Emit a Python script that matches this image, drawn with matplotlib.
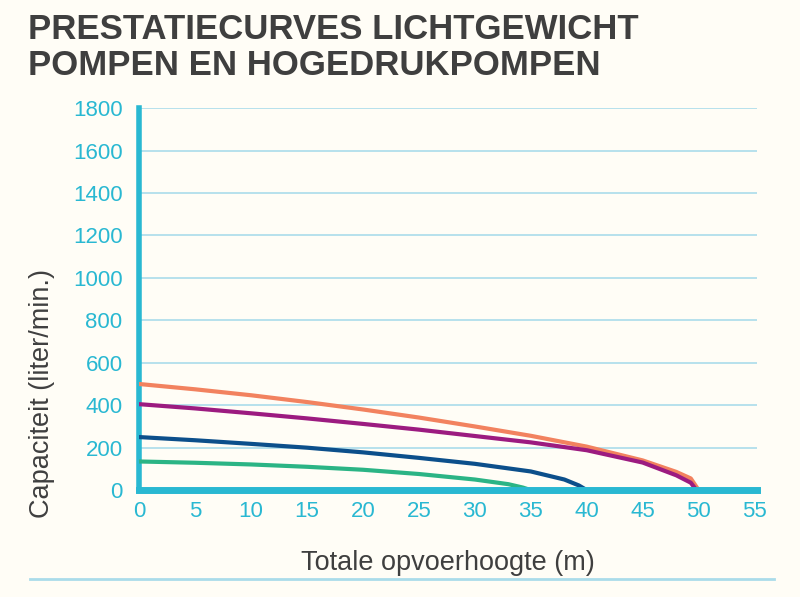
import numpy as np
import matplotlib.pyplot as plt
from matplotlib.lines import Line2D

# curve data (head in m, capacity in liter/min)
orange_x = [0, 5, 10, 15, 20, 25, 30, 35, 40, 45, 48, 49.3, 50]
orange_y = [500, 475, 447, 415, 380, 342, 300, 256, 205, 140, 86, 55, 0]
purple_x = [0, 5, 10, 15, 20, 25, 30, 35, 40, 45, 48, 49.3, 49.8]
purple_y = [405, 385, 362, 338, 312, 285, 255, 225, 188, 130, 70, 35, 0]
blue_x = [0, 5, 10, 15, 20, 25, 30, 35, 38, 39.3, 40]
blue_y = [250, 235, 218, 200, 178, 152, 124, 88, 50, 22, 0]
green_x = [0, 5, 10, 15, 20, 25, 30, 33, 34.3, 35]
green_y = [135, 129, 121, 110, 96, 76, 50, 28, 12, 0]

xticks = [0, 5, 10, 15, 20, 25, 30, 35, 40, 45, 50, 55]
yticks = [0, 200, 400, 600, 800, 1000, 1200, 1400, 1600, 1800]

bg = '#fffdf6'
cyan = '#29b8d2'
grid_col = '#aadcea'
dark = '#3f3f3f'

plt.rcParams['font.family'] = ['Liberation Sans', 'DejaVu Sans']

fig = plt.figure(figsize=(8, 5.97), dpi=100, facecolor=bg)
ax = fig.add_axes([0.174, 0.179, 0.772, 0.640])
ax.set_facecolor(bg)

ax.plot(orange_x, orange_y, color='#f2825f', lw=3, solid_capstyle='round', zorder=4)
ax.plot(purple_x, purple_y, color='#9c1b80', lw=3, solid_capstyle='round', zorder=4)
ax.plot(blue_x, blue_y, color='#0c4f8b', lw=3, solid_capstyle='round', zorder=4)
ax.plot(green_x, green_y, color='#2bb485', lw=3, solid_capstyle='round', zorder=4)

ax.set_xlim(0, 55.2)
ax.set_ylim(0, 1800)
ax.set_xticks(xticks)
ax.set_yticks(yticks)
ax.yaxis.grid(True, color=grid_col, lw=1.2)
ax.set_axisbelow(True)

for s in ['top', 'right']:
    ax.spines[s].set_visible(False)
ax.spines['left'].set_color(cyan)
ax.spines['left'].set_linewidth(4)
ax.spines['bottom'].set_color(cyan)
ax.spines['bottom'].set_linewidth(5)
ax.spines['bottom'].set_zorder(5)
ax.tick_params(length=0, colors=cyan, labelsize=16, pad=8)
ax.tick_params(axis='y', pad=12)

ax.set_xlabel('Totale opvoerhoogte (m)', fontsize=19.5, color=dark, labelpad=20)
ax.yaxis.set_label_coords(-0.136, -0.073)
ax.set_ylabel('Capaciteit (liter/min.)', fontsize=19.5, color=dark, ha='left')

fig.text(0.035, 0.978, 'PRESTATIECURVES LICHTGEWICHT\nPOMPEN EN HOGEDRUKPOMPEN',
         fontsize=25, fontweight='bold', color=dark, va='top', ha='left',
         linespacing=1.12)

fig.add_artist(Line2D([0.038, 0.968], [0.03, 0.03], color=grid_col, lw=2,
                      transform=fig.transFigure))

fig.savefig('out.png', dpi=100, facecolor=bg)
